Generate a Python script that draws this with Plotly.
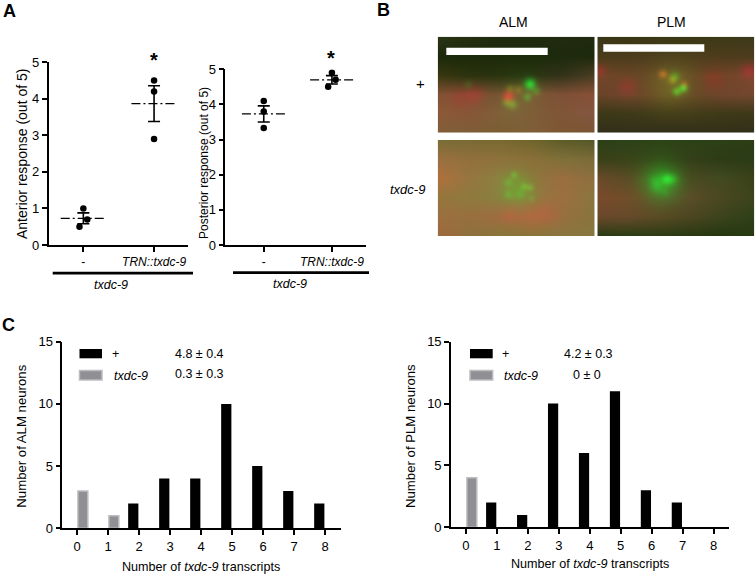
import numpy as np
import plotly.graph_objects as go

WIDTH = 756
HEIGHT = 575
FONT = "Liberation Sans"

# Panel A
ant_points = [[1.0, 0.7, 0.5], [4.5, 4.2, 2.9]]
ant_jitter = [[0.0, 0.055, -0.055], [0.0, 0.0, 0.0]]
ant_mean = [0.73, 3.87]
ant_sem = [0.15, 0.49]

post_points = [[4.1, 3.8, 3.33], [4.9, 4.7, 4.5]]
post_jitter = [[0.0, 0.0, 0.0], [0.0, 0.055, -0.055]]
post_mean = [3.73, 4.7]
post_sem = [0.23, 0.12]

a_ticks = ["-", "<i>TRN::txdc-9</i>"]

# Panel C
transcripts = [0, 1, 2, 3, 4, 5, 6, 7, 8]
alm_wt = [None, None, 2, 4, 4, 10, 5, 3, 2]
alm_mut = [3, 1, None, None, None, None, None, None, None]
plm_wt = [None, 2, 1, 10, 6, 11, 3, 2, None]
plm_mut = [4, None, None, None, None, None, None, None, None]

alm_wt_grid = [
    ["2a3516", "242f10", "1f2b0f", "1f2b0f", "212c10", "1f2a10"],
    ["1c2a0b", "1c2a0b", "1c2a0b", "1c2a0b", "1e2a0d", "1e2a0d"],
    ["38370f", "2c330f", "2a300f", "2d3212", "33331a", "4a3e22"],
    ["825234", "825034", "744f32", "7e5034", "7e5036", "885036"],
    ["8c5a38", "885638", "805e38", "805838", "805638", "845640"],
    ["805e38", "7e5e38", "7c5e32", "805e38", "7e5632", "7a5636"],
]
plm_wt_grid = [
    ["3a3818", "3a3614", "3a3814", "3a3814", "3e3a18", "3e3a1a"],
    ["4a3c1c", "4c3c1c", "4e3e1e", "4e3e1c", "4e3c1c", "4c3c1c"],
    ["744628", "684626", "664626", "664626", "704628", "7c462e"],
    ["6a4428", "70462c", "684826", "664626", "70462c", "74482e"],
    ["3c3818", "3e3a18", "443c1a", "443c1a", "3e3a18", "3e3818"],
    ["33301a", "33301a", "33301a", "333018", "333018", "33301a"],
]
alm_mut_grid = [
    ["7a6d38", "7a6a36", "7a6a30", "70662c", "5e5c28", "56582a"],
    ["9a7040", "92703c", "8e723c", "8a7038", "80703a", "7a6c38"],
    ["b0703c", "967640", "8c8040", "90743e", "9a6e40", "8e7040"],
    ["96763e", "8e7a3c", "8a8040", "8e7a40", "9c7040", "8a7640"],
    ["9c7040", "98703e", "a06c40", "b06a40", "96703e", "88743e"],
    ["a0683e", "8e7040", "887638", "8a7438", "8a7640", "887640"],
]
plm_mut_grid = [
    ["2c4018", "2c4218", "2c4416", "2c4216", "2c4016", "2c3e16"],
    ["3a4018", "3a4418", "38481a", "343f18", "2e3c16", "2c3c16"],
    ["6a4a2a", "5a4c26", "4c5c20", "4a4820", "424a20", "3a4018"],
    ["7a4a2c", "704e2a", "5a5228", "5a4c28", "4a4820", "3c441c"],
    ["6a482a", "684a2a", "5a4a24", "4c4620", "3c441c", "304018"],
    ["2c3c14", "2c3e14", "2e3c14", "2a3a12", "263810", "263a12"],
]

# spots: x, y, sigma, added r, g, b
alm_wt_spots = [
    (81.6, 57, 17, -5, 15, 0), (91.6, 46.6, 4, -30, 130, 15), (70, 59, 4, 90, -15, 5),
    (89, 59.6, 3, -15, 50, 0), (74, 67, 3.5, 5, 50, 0), (68, 65, 3, 0, 40, 0),
    (98, 53.6, 3, -10, 40, 0), (80, 52, 3, 30, 25, 0), (71.6, 51.3, 3, 20, 30, 0),
    (36.6, 57, 6, 25, -10, 0), (21.6, 60.6, 7, 15, -10, 0), (30, 47, 3, -5, 20, 0),
]
plm_wt_spots = [
    (74.4, 47, 15, 10, 30, 0), (65.4, 36.6, 3, 70, 25, 0), (77.7, 39, 3.5, -10, 45, 0),
    (86, 50.6, 3, -10, 100, 10), (79.4, 54, 3, -10, 80, 5), (75, 42.3, 3, 40, 35, 0),
    (87, 46.6, 2.5, 45, 5, 0), (2.7, 33, 4, 35, -10, 8), (30, 49, 6, 28, -8, 4),
    (151, 33, 5, 40, -10, 8), (116, 42, 7, 20, -8, 0),
]
alm_mut_spots = [
    (80, 47, 11, -20, 28, -10), (75.6, 34.3, 2.5, -10, 35, 0), (70, 42, 3, -10, 25, 0),
    (85.6, 46, 2.5, 0, 30, 0), (91.6, 47, 2.5, 0, 30, 0), (70, 54.3, 3, -10, 25, 0),
    (81.6, 53.7, 3.5, -10, 20, 0), (93.3, 58, 2.5, -5, 15, 0), (108, 70, 9, 10, -6, 0),
    (70, 75, 5, 12, -4, 0),
]
plm_mut_spots = [
    (64.4, 42, 13, -20, 65, 5), (69.4, 38.7, 4, -5, 70, 10), (76, 38.7, 4, -5, 35, 5),
    (57.7, 40.3, 4, -5, 25, 5), (59.4, 47, 4, -5, 25, 5), (67.7, 52, 3, -5, 15, 0),
]


def xdom(left, right):
    return [left / WIDTH, right / WIDTH]


def ydom(top, bottom):
    return [1 - bottom / HEIGHT, 1 - top / HEIGHT]


def micrograph(grid, spots, w=157, h=96):
    """Smooth the coarse colour grid up to image size and add the bright spots."""
    rgb = np.array([[[int(c[i:i + 2], 16) for i in (0, 2, 4)] for c in row] for row in grid], float)
    rows, cols = rgb.shape[:2]
    yy, xx = np.mgrid[0:h, 0:w]
    fx = xx / (w - 1) * (cols - 1)
    fy = yy / (h - 1) * (rows - 1)
    x0 = np.clip(fx.astype(int), 0, cols - 2)
    y0 = np.clip(fy.astype(int), 0, rows - 2)
    tx = (fx - x0)[..., None]
    ty = (fy - y0)[..., None]
    img = (rgb[y0, x0] * (1 - tx) + rgb[y0, x0 + 1] * tx) * (1 - ty) + (
        rgb[y0 + 1, x0] * (1 - tx) + rgb[y0 + 1, x0 + 1] * tx
    ) * ty
    for sx, sy, sigma, r, g, b in spots:
        blob = np.exp(-((xx - sx) ** 2 + (yy - sy) ** 2) / (2 * sigma**2))[..., None]
        img = img + blob * np.array([r, g, b], float)
    return np.clip(img, 0, 255).astype(np.uint8)


fig = go.Figure()
layout = {}
axis_base = dict(
    showgrid=False, zeroline=False, showline=True, linecolor="black", linewidth=1.6,
    ticks="outside", tickcolor="black", tickwidth=1.6, ticklen=5,
    tickfont=dict(family=FONT, size=13, color="black"),
)
counter = [0]
annotations = []


def label(text, x, y, size=12.5, anchor="center", bold=False, angle=0):
    annotations.append(dict(
        text=f"<b>{text}</b>" if bold else text, x=x / WIDTH, y=1 - y / HEIGHT,
        xref="paper", yref="paper", xanchor=anchor, yanchor="middle", showarrow=False,
        textangle=angle, font=dict(family=FONT, size=size, color="black"),
    ))


def new_axes(x_dom, y_dom, x_opts, y_opts):
    counter[0] += 1
    n = counter[0]
    sx = "" if n == 1 else str(n)
    layout["xaxis" + sx] = dict(axis_base, domain=x_dom, anchor="y" + sx, **x_opts)
    layout["yaxis" + sx] = dict(axis_base, domain=y_dom, anchor="x" + sx, **y_opts)
    return "x" + sx, "y" + sx


def scatter_panel(points, jitter, mean, sem, left, right, top, bottom, x_range):
    xa, ya = new_axes(
        xdom(left, right), ydom(top, bottom),
        dict(range=x_range, tickvals=[0, 1], ticktext=a_ticks,
             tickfont=dict(family=FONT, size=12, color="black")),
        dict(range=[0, 5], dtick=1),
    )
    for i in range(2):
        fig.add_trace(go.Scatter(
            x=[i + j for j in jitter[i]], y=points[i], mode="markers",
            marker=dict(color="black", size=6.5), xaxis=xa, yaxis=ya, showlegend=False,
        ))
        fig.add_trace(go.Scatter(
            x=[i - 0.32, i + 0.32], y=[mean[i], mean[i]], mode="lines",
            line=dict(color="black", width=1.3, dash="9px,3px,2px,3px"),
            xaxis=xa, yaxis=ya, showlegend=False,
        ))
        fig.add_trace(go.Scatter(
            x=[i], y=[mean[i]], mode="markers", marker=dict(opacity=0),
            error_y=dict(type="data", array=[sem[i]], color="black", thickness=1.6, width=6),
            xaxis=xa, yaxis=ya, showlegend=False,
        ))


def bar_panel(wt, mut, left, right, top, bottom, x_range):
    xa, ya = new_axes(
        xdom(left, right), ydom(top, bottom),
        dict(range=x_range, tickvals=transcripts),
        dict(range=[0, 15], tickvals=[0, 5, 10, 15]),
    )
    fig.add_trace(go.Bar(
        x=transcripts, y=wt, width=0.33, offset=-0.35, marker=dict(color="black", line=dict(width=0)),
        xaxis=xa, yaxis=ya, showlegend=False,
    ))
    fig.add_trace(go.Bar(
        x=transcripts, y=mut, width=0.32, offset=0.03,
        marker=dict(color="#8f8f94", line=dict(color="#bdbdc0", width=1.5)),
        xaxis=xa, yaxis=ya, showlegend=False,
    ))


scatter_panel(ant_points, ant_jitter, ant_mean, ant_sem, 48.7, 188, 62.3, 245, [-0.49, 1.48])
scatter_panel(post_points, post_jitter, post_mean, post_sem, 225.3, 366, 69.3, 245, [-0.564, 1.5])

bar_panel(alm_wt, alm_mut, 62.3, 340.7, 341.7, 528.3, [-0.474, 8.506])
bar_panel(plm_wt, plm_mut, 451, 729, 341.7, 527.3, [-0.484, 8.5])

# micrographs
for grid, spots, left, top in [
    (alm_wt_grid, alm_wt_spots, 437.7, 36.7),
    (plm_wt_grid, plm_wt_spots, 597.3, 36.7),
    (alm_mut_grid, alm_mut_spots, 437.7, 140),
    (plm_mut_grid, plm_mut_spots, 597.3, 140),
]:
    xa, ya = new_axes(
        xdom(left, left + 157), ydom(top, top + 96),
        dict(range=[-0.5, 156.5], visible=False),
        dict(range=[95.5, -0.5], visible=False),
    )
    fig.add_trace(go.Image(z=micrograph(grid, spots), xaxis=xa, yaxis=ya, hoverinfo="skip"))

shapes = []


def px_rect(x0, y0, x1, y1, fill, line=None, line_width=0):
    shapes.append(dict(
        type="rect", xref="paper", yref="paper", x0=x0 / WIDTH, x1=x1 / WIDTH,
        y0=1 - y0 / HEIGHT, y1=1 - y1 / HEIGHT, fillcolor=fill,
        line=dict(color=line or fill, width=line_width),
    ))


# scale bars
px_rect(446.3, 47.7, 547.7, 55, "white")
px_rect(603.3, 44.3, 704.3, 51.7, "white")
# strain bars under panel A
px_rect(52.7, 271.7, 193, 274.5, "black")
px_rect(233, 271.3, 369, 274, "black")
# panel C legends
px_rect(79.5, 349, 102, 358.3, "black")
px_rect(79.5, 370.5, 102, 380, "#8f8f94", "#bdbdc0", 1.5)
px_rect(470, 349, 492.7, 358.3, "black")
px_rect(470, 370.5, 492.7, 380, "#8f8f94", "#bdbdc0", 1.5)

label("A", 9, 11, 18, bold=True)
label("B", 383, 10, 18, bold=True)
label("C", 8, 325, 18, bold=True)
label("*", 154, 60, 20, bold=True)
label("*", 331, 58, 20, bold=True)
label("<i>txdc-9</i>", 111, 285)
label("<i>txdc-9</i>", 290, 284)
label("ALM", 513, 22, 14)
label("PLM", 671, 22, 14)
label("+", 420, 84, 15)
label("<i>txdc-9</i>", 407, 189, 13)
label("+", 115.7, 353.7)
label("<i>txdc-9</i>", 112.3, 375.7, anchor="left")
label("4.8 ± 0.4", 199, 353.5)
label("0.3 ± 0.3", 199, 374)
label("+", 505.7, 353.7)
label("<i>txdc-9</i>", 502.3, 375.7, anchor="left")
label("4.2 ± 0.3", 588, 353.5)
label("0 ± 0", 587.3, 374.5)
# axis titles
label("Anterior response (out of 5)", 22, 154, 14, angle=-90)
label("Posterior response (out of 5)", 204, 163, 12, angle=-90)
label("Number of ALM neurons", 20.7, 436, 13.2, angle=-90)
label("Number of PLM neurons", 410, 436, 13.2, angle=-90)
label("Number of <i>txdc-9</i> transcripts", 201.3, 566.7, 12.6)
label("Number of <i>txdc-9</i> transcripts", 590.3, 564, 12.6)

fig.update_layout(
    width=WIDTH, height=HEIGHT, autosize=False,
    margin=dict(l=0, r=0, t=0, b=0, autoexpand=False),
    paper_bgcolor="white", plot_bgcolor="white", barmode="overlay", showlegend=False,
    shapes=shapes, annotations=annotations, **layout,
)

# the page's default body margin would push the figure 8px off
fig.write_html("out.html", config=dict(displayModeBar=False),
               post_script="document.body.style.margin='0';")
